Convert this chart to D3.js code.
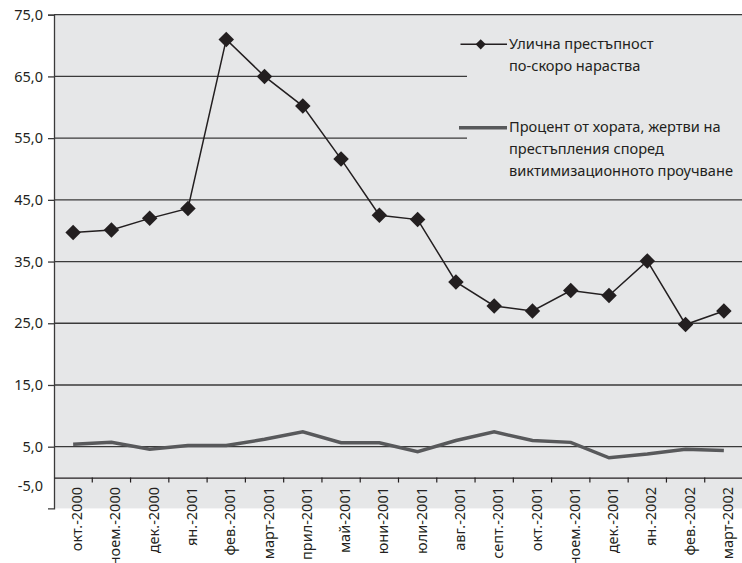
<!DOCTYPE html>
<html><head><meta charset="utf-8">
<script src="https://cdn.jsdelivr.net/npm/d3@7"></script>
<style>body{margin:0;background:#fff;}svg{display:block;}text{font-family:"Noto Sans",sans-serif;fill:#231f20;}</style>
</head><body>
<svg id="c" width="742" height="563"></svg>
<script>
const categories = ["окт.-2000","ноем.-2000","дек.-2000","ян.-2001","фев.-2001","март-2001","прил-2001","май-2001","юни-2001","юли-2001","авг.-2001","септ.-2001","окт.-2001","ноем.-2001","дек.-2001","ян.-2002","фев.-2002","март-2002"];
const streetCrime = [39.7, 40.1, 42.0, 43.6, 71.0, 65.0, 60.2, 51.6, 42.5, 41.8, 31.7, 27.8, 27.0, 30.3, 29.5, 35.1, 24.8, 27.0];
const victimsPct = [5.4, 5.7, 4.6, 5.2, 5.2, 6.2, 7.4, 5.65, 5.65, 4.2, 6.0, 7.4, 6.0, 5.7, 3.2, 3.8, 4.6, 4.4];
const yTicks = [-5, 5, 15, 25, 35, 45, 55, 65, 75];
const legendStreet = ["Улична престъпност", "по-скоро нараства"];
const legendVictims = ["Процент от хората, жертви на", "престъпления според", "виктимизационното проучване"];

const svg = d3.select("#c");
const L = 54, R = 743, T = 14.7, B = 508.4;
const x = d3.scaleBand().domain(categories).range([L, R]);
const y = d3.scaleLinear().domain([-5, 75]).range([B, T]);
const fmt = v => d3.format(".1f")(v).replace(".", ",").replace("\u2212", "-");

// plot background
svg.append("rect").attr("x", L).attr("y", T).attr("width", R - L).attr("height", B - T).attr("fill", "#e6e7e8");

// gridlines
svg.append("g").selectAll("line").data(yTicks.filter(v => v > 0)).join("line")
  .attr("x1", L).attr("x2", R).attr("y1", d => y(d)).attr("y2", d => y(d))
  .attr("stroke", "#3a3a3a").attr("stroke-width", 1.3);

// legend box (covers gridlines)
svg.append("rect").attr("x", 467).attr("y", 22).attr("width", 275).attr("height", 165).attr("fill", "#e6e7e8");

// y axis
const yAxis = d3.axisLeft(y).tickValues(yTicks).tickFormat(fmt).tickSize(6).tickPadding(5);
const gy = svg.append("g").attr("transform", `translate(${L},0)`).call(yAxis);
gy.select(".domain").attr("stroke", "#3a3a3a").attr("stroke-width", 1.3);
gy.selectAll(".tick line").attr("stroke", "#3a3a3a").attr("stroke-width", 1.3);
gy.selectAll(".tick text").attr("font-size", 14.5).attr("fill", "#231f20").style("font-family", "'Noto Sans',sans-serif");
gy.selectAll(".tick").filter(d => d === -5).attr("transform", `translate(0,${y(0) + 8.5})`).select("line").remove();

// x axis at 0
const xAxis = d3.axisBottom(x).tickSize(0).tickFormat("");
const gx = svg.append("g").attr("transform", `translate(0,${y(0)})`).call(xAxis);
gx.select(".domain").attr("stroke", "#231f20").attr("stroke-width", 1.2);
gx.selectAll(".tick").remove();
svg.append("g").selectAll("line").data(categories.slice(1)).join("line")
  .attr("x1", d => x(d)).attr("x2", d => x(d)).attr("y1", y(0)).attr("y2", y(0) + 5)
  .attr("stroke", "#231f20").attr("stroke-width", 1.2);

// x labels
svg.append("g").selectAll("text").data(categories).join("text")
  .attr("transform", d => `translate(${x(d) + x.bandwidth() / 2 + 4},487) rotate(-90)`)
  .attr("text-anchor", "end").attr("dy", "0.35em").attr("font-size", 14.5)
  .text(d => d);

// series 2 line
svg.append("path").datum(victimsPct)
  .attr("d", d3.line().x((d, i) => x(categories[i]) + x.bandwidth() / 2).y(d => y(d)))
  .attr("fill", "none").attr("stroke", "#58595b").attr("stroke-width", 3.5).attr("stroke-linejoin", "miter");

// series 1 line
svg.append("path").datum(streetCrime)
  .attr("d", d3.line().x((d, i) => x(categories[i]) + x.bandwidth() / 2).y(d => y(d)))
  .attr("fill", "none").attr("stroke", "#231f20").attr("stroke-width", 1.5);
svg.append("g").selectAll("path").data(streetCrime).join("path")
  .attr("d", d3.symbol(d3.symbolSquare, 120))
  .attr("transform", (d, i) => `translate(${x(categories[i]) + x.bandwidth() / 2},${y(d)}) rotate(45)`)
  .attr("fill", "#231f20");

// legend
const lg = svg.append("g");
lg.append("line").attr("x1", 460.5).attr("x2", 507).attr("y1", 44.3).attr("y2", 44.3).attr("stroke", "#231f20").attr("stroke-width", 1.5);
lg.append("path").attr("d", d3.symbol(d3.symbolSquare, 52)).attr("transform", "translate(480.7,44.3) rotate(45)").attr("fill", "#231f20");
lg.selectAll("text.s1").data(legendStreet).join("text").attr("class", "s1")
  .attr("x", 509).attr("y", (d, i) => 44.3 + i * 22).attr("dy", "0.35em").attr("font-size", 14.6).text(d => d);
lg.append("line").attr("x1", 459).attr("x2", 507).attr("y1", 127.7).attr("y2", 127.7).attr("stroke", "#58595b").attr("stroke-width", 3.5);
lg.selectAll("text.s2").data(legendVictims).join("text").attr("class", "s2")
  .attr("x", 509).attr("y", (d, i) => 127 + i * 21.8).attr("dy", "0.35em").attr("font-size", 14.6).text(d => d);
</script>
</body></html>
